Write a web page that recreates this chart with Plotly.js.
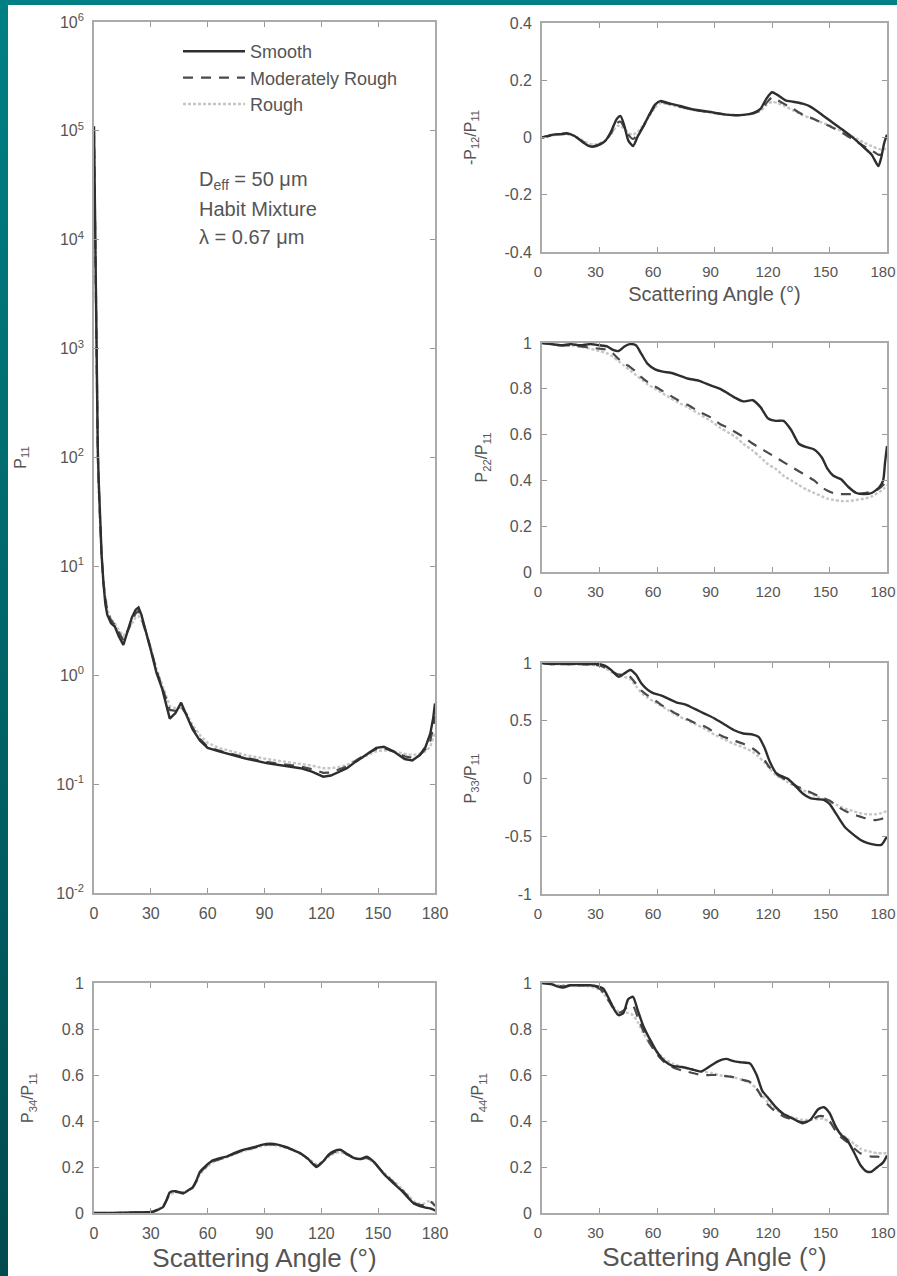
<!DOCTYPE html>
<html>
<head>
<meta charset="utf-8">
<script src="https://cdn.plot.ly/plotly-3.0.1.min.js"></script>
<style>
  html, body { margin: 0; padding: 0; width: 897px; height: 1276px; overflow: hidden;
    background: linear-gradient(to bottom, #008084, #004b4e); }
  #plot { position: absolute; left: 8px; top: 5px; width: 889px; height: 1271px; }
</style>
</head>
<body>
<div id="plot"></div>
<script>
// ---------------- DATA ----------------
const seriesNames = ["Smooth", "Moderately Rough", "Rough"];

// P11 (log scale)
const angP11 = [0, 0.5, 1, 1.5, 2, 2.5, 3, 4, 5, 6, 7, 9, 11, 13, 15.5, 18, 20, 22, 23.5, 25, 27, 30, 33, 36, 40, 43, 46, 49, 52, 56, 60, 66, 73, 80, 91, 100, 109, 115, 121, 125, 129, 133.5, 138, 144, 149, 153, 158, 164, 168, 172, 175, 177.5, 179, 180];
const p11Smooth = [1.1e5, 2e4, 1.5e3, 3e2, 1.2e2, 60, 35, 13, 7, 4.5, 3.6, 3.0, 2.8, 2.3, 1.9, 2.6, 3.4, 4.0, 4.2, 3.6, 2.6, 1.7, 1.05, 0.75, 0.40, 0.45, 0.56, 0.42, 0.32, 0.25, 0.215, 0.2, 0.185, 0.172, 0.156, 0.148, 0.14, 0.13, 0.117, 0.12, 0.13, 0.14, 0.16, 0.19, 0.215, 0.22, 0.2, 0.17, 0.165, 0.185, 0.22, 0.29, 0.4, 0.55];
const p11Mod = [1.0e5, 1.8e4, 1.4e3, 2.8e2, 1.1e2, 55, 32, 12.5, 7, 4.8, 3.8, 3.2, 2.9, 2.5, 2.1, 2.6, 3.2, 3.7, 3.9, 3.4, 2.6, 1.75, 1.1, 0.78, 0.48, 0.47, 0.52, 0.43, 0.33, 0.26, 0.22, 0.203, 0.188, 0.175, 0.16, 0.152, 0.145, 0.137, 0.127, 0.128, 0.135, 0.145, 0.163, 0.19, 0.21, 0.215, 0.2, 0.18, 0.175, 0.185, 0.21, 0.25, 0.33, 0.42];
const p11Rough = [9e4, 1.6e4, 1.3e3, 2.6e2, 1.0e2, 50, 30, 12, 7, 5, 4, 3.3, 3.0, 2.6, 2.3, 2.6, 3.0, 3.4, 3.5, 3.2, 2.6, 1.8, 1.15, 0.82, 0.52, 0.5, 0.5, 0.44, 0.35, 0.28, 0.24, 0.215, 0.2, 0.185, 0.17, 0.162, 0.155, 0.148, 0.14, 0.14, 0.143, 0.15, 0.165, 0.185, 0.2, 0.205, 0.2, 0.19, 0.185, 0.19, 0.2, 0.22, 0.26, 0.3];

// -P12/P11
const angP12 = [0, 3, 6, 10, 13, 17, 21, 24, 27, 30, 33, 36, 39, 41, 43, 45, 47.5, 50, 53, 56, 59, 62, 66, 72, 79, 87, 96, 103, 110, 114, 117, 120, 123, 127, 131, 136, 140, 145, 150, 157, 163, 168, 172, 175.5, 177, 178.5, 180];
const p12Smooth = [0, 0.005, 0.01, 0.012, 0.015, 0.005, -0.015, -0.028, -0.032, -0.025, -0.012, 0.02, 0.065, 0.075, 0.04, -0.01, -0.03, 0.005, 0.04, 0.08, 0.115, 0.128, 0.12, 0.11, 0.098, 0.09, 0.08, 0.078, 0.085, 0.1, 0.135, 0.158, 0.148, 0.13, 0.125, 0.118, 0.108, 0.085, 0.06, 0.026, -0.005, -0.035, -0.06, -0.1, -0.07, -0.02, 0.01];
const p12Mod = [0, 0.005, 0.01, 0.012, 0.014, 0.005, -0.013, -0.025, -0.03, -0.024, -0.012, 0.015, 0.05, 0.055, 0.035, 0.01, -0.005, 0.01, 0.04, 0.078, 0.11, 0.124, 0.118, 0.108, 0.097, 0.089, 0.08, 0.078, 0.084, 0.095, 0.12, 0.14, 0.13, 0.115, 0.1, 0.08, 0.07, 0.055, 0.04, 0.015, -0.01, -0.03, -0.045, -0.06, -0.06, -0.055, -0.05];
const p12Rough = [0, 0.005, 0.008, 0.01, 0.012, 0.005, -0.01, -0.02, -0.025, -0.02, -0.01, 0.01, 0.04, 0.04, 0.03, 0.015, 0.01, 0.02, 0.045, 0.075, 0.105, 0.12, 0.115, 0.106, 0.096, 0.088, 0.08, 0.078, 0.083, 0.093, 0.112, 0.125, 0.12, 0.108, 0.095, 0.078, 0.068, 0.055, 0.042, 0.02, 0.0, -0.018, -0.03, -0.04, -0.042, -0.04, -0.04];

// P22/P11
const angP22 = [0, 5, 10, 15, 20, 25, 30, 34, 37, 40, 43, 46, 49, 52, 55, 59, 63, 67, 71, 76, 82, 88, 93, 97, 101, 105, 110, 114, 118, 122, 126, 130, 134, 138, 142, 146, 149, 152, 156, 160, 164, 168, 172, 176, 178, 179, 180];
const p22Smooth = [1, 0.995, 0.99, 0.995, 0.99, 0.995, 0.99, 0.985, 0.97, 0.965, 0.985, 0.995, 0.99, 0.95, 0.91, 0.885, 0.875, 0.87, 0.86, 0.845, 0.835, 0.815, 0.8, 0.78, 0.76, 0.745, 0.75, 0.72, 0.67, 0.66, 0.66, 0.62, 0.56, 0.545, 0.535, 0.5, 0.45, 0.42, 0.405, 0.37, 0.345, 0.34, 0.345, 0.37, 0.4, 0.48, 0.55];
const p22Mod = [1, 0.995, 0.99, 0.99, 0.985, 0.98, 0.975, 0.97, 0.955, 0.93, 0.91, 0.895, 0.875, 0.85, 0.83, 0.81, 0.79, 0.77, 0.75, 0.73, 0.7, 0.675, 0.645, 0.63, 0.61, 0.59, 0.56, 0.54, 0.52, 0.5, 0.48, 0.46, 0.44, 0.42, 0.4, 0.37, 0.355, 0.345, 0.34, 0.34, 0.34, 0.345, 0.35, 0.365, 0.38, 0.39, 0.4];
const p22Rough = [1, 0.995, 0.99, 0.99, 0.985, 0.975, 0.965, 0.955, 0.94, 0.92, 0.9, 0.88, 0.86, 0.84, 0.82, 0.8, 0.78, 0.76, 0.74, 0.72, 0.69, 0.66, 0.63, 0.61, 0.59, 0.56, 0.53, 0.5, 0.47, 0.45, 0.42, 0.4, 0.38, 0.36, 0.345, 0.33, 0.32, 0.315, 0.31, 0.31, 0.315, 0.32, 0.33, 0.35, 0.36, 0.37, 0.38];

// P33/P11
const angP33 = [0, 5, 10, 15, 20, 25, 30, 33, 36, 40, 43, 46, 49, 52, 55, 58, 62, 66, 70, 75, 80, 85, 90, 95, 100, 105, 110, 113, 116, 119, 122, 125, 128, 132, 136, 140, 144, 147, 150, 154, 158, 162, 166, 170, 174, 177, 180];
const p33Smooth = [1, 0.99, 0.995, 0.99, 0.995, 0.99, 0.99, 0.975, 0.94, 0.88, 0.91, 0.94, 0.9, 0.82, 0.77, 0.74, 0.72, 0.69, 0.66, 0.64, 0.6, 0.56, 0.52, 0.47, 0.42, 0.39, 0.38, 0.36, 0.27, 0.14, 0.05, 0.02, 0, -0.06, -0.13, -0.17, -0.18, -0.185, -0.22, -0.32, -0.42, -0.48, -0.53, -0.56, -0.575, -0.575, -0.5];
const p33Mod = [1, 0.99, 0.99, 0.99, 0.99, 0.985, 0.98, 0.96, 0.93, 0.9, 0.9, 0.88, 0.82, 0.76, 0.72, 0.69, 0.64, 0.6, 0.56, 0.52, 0.48, 0.45, 0.4, 0.36, 0.33, 0.3, 0.26, 0.22, 0.16, 0.09, 0.04, 0.01, -0.02, -0.06, -0.09, -0.12, -0.15, -0.17, -0.19, -0.24, -0.28, -0.31, -0.33, -0.35, -0.36, -0.35, -0.33];
const p33Rough = [1, 0.99, 0.99, 0.99, 0.99, 0.985, 0.975, 0.955, 0.925, 0.89, 0.88, 0.86, 0.8, 0.74, 0.7, 0.67, 0.63, 0.59, 0.55, 0.51, 0.47, 0.43, 0.38, 0.34, 0.3, 0.27, 0.23, 0.19, 0.14, 0.08, 0.03, 0.0, -0.03, -0.07, -0.1, -0.13, -0.16, -0.18, -0.2, -0.23, -0.26, -0.28, -0.3, -0.31, -0.31, -0.3, -0.28];

// P44/P11
const angP44 = [0, 5, 8, 11, 15, 20, 25, 29, 32, 35, 38, 40, 42.5, 45, 47.5, 50, 53, 56, 60, 64, 68, 73, 78, 83, 88, 92, 96, 100, 104, 108.5, 112, 115, 118, 122, 126, 131, 136, 140, 144, 147, 150, 153, 156, 159, 163, 166, 169.5, 172, 175, 178, 180];
const p44Smooth = [1, 0.995, 0.985, 0.98, 0.99, 0.99, 0.99, 0.985, 0.975, 0.93, 0.88, 0.86, 0.87, 0.93, 0.94, 0.88, 0.81, 0.76, 0.7, 0.66, 0.64, 0.635, 0.625, 0.615, 0.64, 0.66, 0.67, 0.66, 0.655, 0.65, 0.6, 0.53, 0.5, 0.46, 0.43, 0.41, 0.39, 0.405, 0.45, 0.46, 0.435, 0.38, 0.34, 0.32, 0.26, 0.21, 0.18, 0.18, 0.2, 0.22, 0.25];
const p44Mod = [1, 0.995, 0.99, 0.985, 0.99, 0.99, 0.99, 0.98, 0.96, 0.92, 0.88, 0.87, 0.88, 0.9, 0.9, 0.85, 0.79, 0.74, 0.69, 0.655, 0.635, 0.62, 0.61, 0.6, 0.6, 0.6, 0.595, 0.59, 0.58, 0.57, 0.54, 0.5, 0.47, 0.44, 0.42, 0.405, 0.395, 0.4, 0.42, 0.42, 0.4, 0.36, 0.33, 0.31, 0.28, 0.26, 0.25, 0.245, 0.245, 0.24, 0.24];
const p44Rough = [1, 0.995, 0.99, 0.99, 0.99, 0.99, 0.985, 0.975, 0.955, 0.92, 0.89, 0.875, 0.87, 0.87, 0.86, 0.83, 0.78, 0.74, 0.7, 0.67, 0.65, 0.635, 0.625, 0.615, 0.61, 0.6, 0.595, 0.59, 0.58, 0.565, 0.54, 0.51, 0.48, 0.45, 0.43, 0.415, 0.405, 0.405, 0.41, 0.41, 0.395, 0.37, 0.345, 0.325, 0.3, 0.28, 0.27, 0.265, 0.26, 0.26, 0.26];

// P34/P11
const angP34 = [0, 10, 20, 28, 31, 34, 36.5, 38.5, 40, 43, 47, 50, 52, 54, 56, 59, 63, 67, 70, 74, 79, 84, 88, 91, 95, 98, 102, 106, 109, 113, 117.5, 121, 124, 127, 130, 133, 137, 141, 144, 148, 153, 158, 162, 166, 169, 172, 174, 176, 177.5, 179, 180];
const p34Smooth = [0, 0, 0.002, 0.003, 0.005, 0.015, 0.026, 0.06, 0.09, 0.095, 0.085, 0.1, 0.11, 0.14, 0.18, 0.205, 0.23, 0.24, 0.245, 0.26, 0.275, 0.285, 0.295, 0.3, 0.3, 0.295, 0.285, 0.27, 0.26, 0.235, 0.2, 0.225, 0.255, 0.27, 0.275, 0.26, 0.24, 0.235, 0.245, 0.22, 0.17, 0.13, 0.1, 0.065, 0.04, 0.03, 0.026, 0.022, 0.02, 0.015, 0.01];
const p34Mod = [0, 0, 0.002, 0.003, 0.006, 0.016, 0.03, 0.06, 0.085, 0.092, 0.088, 0.1, 0.11, 0.138, 0.175, 0.2, 0.225, 0.236, 0.243, 0.258, 0.272, 0.283, 0.292, 0.297, 0.297, 0.293, 0.284, 0.27, 0.258, 0.235, 0.205, 0.225, 0.25, 0.265, 0.27, 0.258, 0.24, 0.235, 0.24, 0.218, 0.172, 0.135, 0.105, 0.07, 0.045, 0.035, 0.035, 0.045, 0.05, 0.04, 0.03];
const p34Rough = [0, 0, 0.002, 0.004, 0.007, 0.017, 0.032, 0.058, 0.08, 0.09, 0.09, 0.1, 0.11, 0.135, 0.17, 0.195, 0.222, 0.235, 0.242, 0.256, 0.27, 0.28, 0.29, 0.295, 0.295, 0.29, 0.282, 0.27, 0.258, 0.237, 0.212, 0.225, 0.245, 0.26, 0.265, 0.255, 0.24, 0.235, 0.237, 0.215, 0.175, 0.14, 0.11, 0.075, 0.05, 0.04, 0.04, 0.05, 0.05, 0.045, 0.04];

// Tick labels
const angleTicks = [0, 30, 60, 90, 120, 150, 180];
const angleTickText = ["0", "30", "60", "90", "120", "150", "180"];
const logTicks = [0.01, 0.1, 1, 10, 100, 1000, 10000, 100000, 1000000];
const logTickText = ["10<sup>-2</sup>", "10<sup>-1</sup>", "10<sup>0</sup>", "10<sup>1</sup>", "10<sup>2</sup>", "10<sup>3</sup>", "10<sup>4</sup>", "10<sup>5</sup>", "10<sup>6</sup>"];
const p12Ticks = [-0.4, -0.2, 0, 0.2, 0.4];
const p12TickText = ["-0.4", "-0.2", "0", "0.2", "0.4"];
const unitTicks = [0, 0.2, 0.4, 0.6, 0.8, 1];
const unitTickText = ["0", "0.2", "0.4", "0.6", "0.8", "1"];
const p33Ticks = [-1, -0.5, 0, 0.5, 1];
const p33TickText = ["-1", "-0.5", "0", "0.5", "1"];

const annotLines = ["D<sub>eff</sub> = 50 μm", "Habit Mixture", "λ = 0.67 μm"];
const xTitle = "Scattering Angle (°)";

// ---------------- STYLE ----------------
const FONT = '"Liberation Sans", Arial, Helvetica, sans-serif';
const TXT = '#555';
const TICKSIZE = 16;
const styles = [
  {color: '#2e2e2e', width: 2.4, dash: 'solid'},
  {color: '#4a4a4a', width: 2.2, dash: '10px,8px'},
  {color: '#c6c6c6', width: 2.4, dash: '3px,2px'}
];

const traces = [];
function addSet(xs, ys3, xa, ya, legend, shape) {
  [2, 1, 0].forEach(i => {
    traces.push({
      type: 'scatter', mode: 'lines',
      x: xs, y: ys3[i], xaxis: xa, yaxis: ya,
      name: seriesNames[i],
      legendrank: i + 1,
      showlegend: legend,
      line: Object.assign({shape: shape, smoothing: 0.6}, styles[i]),
      hoverinfo: 'skip'
    });
  });
}
addSet(angP11, [p11Smooth, p11Mod, p11Rough], 'x', 'y', true, 'linear');
addSet(angP34, [p34Smooth, p34Mod, p34Rough], 'x2', 'y2', false, 'spline');
addSet(angP12, [p12Smooth, p12Mod, p12Rough], 'x3', 'y3', false, 'spline');
addSet(angP22, [p22Smooth, p22Mod, p22Rough], 'x4', 'y4', false, 'spline');
addSet(angP33, [p33Smooth, p33Mod, p33Rough], 'x5', 'y5', false, 'spline');
addSet(angP44, [p44Smooth, p44Mod, p44Rough], 'x6', 'y6', false, 'spline');

const W = 889, H = 1271;
function dx(a, b) { return [a / W, b / W]; }
function dy(top, bottom) { return [1 - bottom / H, 1 - top / H]; }

function xAxis(domain, anchor, title, titleSize, standoff, right) {
  const ax = {
    domain: domain, anchor: anchor, range: [0, 180],
    tickmode: 'array', tickvals: angleTicks, ticktext: angleTickText,
    tickangle: 0,
    ticks: 'inside', ticklen: 5, tickwidth: 1.2, tickcolor: '#999',
    showline: true, linecolor: '#aaa', linewidth: 1.6, mirror: 'allticks',
    showgrid: false, zeroline: false, automargin: false,
    ticklabelstandoff: 5,
    ticklabelshift: right ? -4 : 0,
    tickfont: {family: FONT, size: right ? 15 : TICKSIZE, color: TXT}
  };
  if (title) ax.title = {text: title, font: {family: FONT, size: titleSize, color: TXT}, standoff: standoff};
  return ax;
}
function yAxis(domain, anchor, range, tv, tt, title, type, standoff) {
  return {
    domain: domain, anchor: anchor, range: range, type: type || 'linear',
    tickmode: 'array', tickvals: tv, ticktext: tt,
    ticks: 'inside', ticklen: 5, tickwidth: 1.2, tickcolor: '#999',
    showline: true, linecolor: '#aaa', linewidth: 1.6, mirror: 'allticks',
    showgrid: false, zeroline: false, automargin: false,
    ticklabelstandoff: 5,
    tickfont: {family: FONT, size: TICKSIZE, color: TXT},
    title: {text: title, font: {family: FONT, size: 16, color: TXT}, standoff: standoff}
  };
}

const leftX = dx(86, 427);
const rightX = dx(534, 879);

const layout = {
  width: W, height: H,
  margin: {l: 0, r: 0, t: 0, b: 0},
  paper_bgcolor: '#ffffff', plot_bgcolor: '#ffffff',
  font: {family: FONT, size: 16, color: TXT},
  showlegend: true,
  legend: {
    x: 170 / W, y: 1 - 28 / H, xanchor: 'left', yanchor: 'top',
    bgcolor: 'rgba(0,0,0,0)', borderwidth: 0,
    font: {family: FONT, size: 18, color: TXT},
    traceorder: 'normal', itemwidth: 62
  },
  xaxis: xAxis(leftX, 'y', null, 0, 0, false),
  yaxis: yAxis(dy(17, 888), 'x', [-2, 6], logTicks, logTickText, 'P<sub>11</sub>', 'log', 26),
  xaxis2: xAxis(leftX, 'y2', xTitle, 26, 8, false),
  yaxis2: yAxis(dy(978, 1208), 'x2', [0, 1], unitTicks, unitTickText, 'P<sub>34</sub>/P<sub>11</sub>', 'linear', 24),
  xaxis3: xAxis(rightX, 'y3', xTitle, 20, 8, true),
  yaxis3: yAxis(dy(18, 247), 'x3', [-0.4, 0.4], p12Ticks, p12TickText, '-P<sub>12</sub>/P<sub>11</sub>', 'linear', 24),
  xaxis4: xAxis(rightX, 'y4', null, 0, 0, true),
  yaxis4: yAxis(dy(338, 567), 'x4', [0, 1], unitTicks, unitTickText, 'P<sub>22</sub>/P<sub>11</sub>', 'linear', 18),
  xaxis5: xAxis(rightX, 'y5', null, 0, 0, true),
  yaxis5: yAxis(dy(658, 889), 'x5', [-1, 1], p33Ticks, p33TickText, 'P<sub>33</sub>/P<sub>11</sub>', 'linear', 24),
  xaxis6: xAxis(rightX, 'y6', xTitle, 26, 8, true),
  yaxis6: yAxis(dy(978, 1208), 'x6', [0, 1], unitTicks, unitTickText, 'P<sub>44</sub>/P<sub>11</sub>', 'linear', 22),
  annotations: annotLines.map((t, i) => ({
    text: t, xref: 'paper', yref: 'paper',
    x: 189 / W, y: 1 - (175 + i * 28.5) / H,
    xanchor: 'left', yanchor: 'middle', showarrow: false,
    font: {family: FONT, size: 20, color: TXT}
  }))
};

Plotly.newPlot('plot', traces, layout, {displayModeBar: false});
</script>
</body>
</html>
